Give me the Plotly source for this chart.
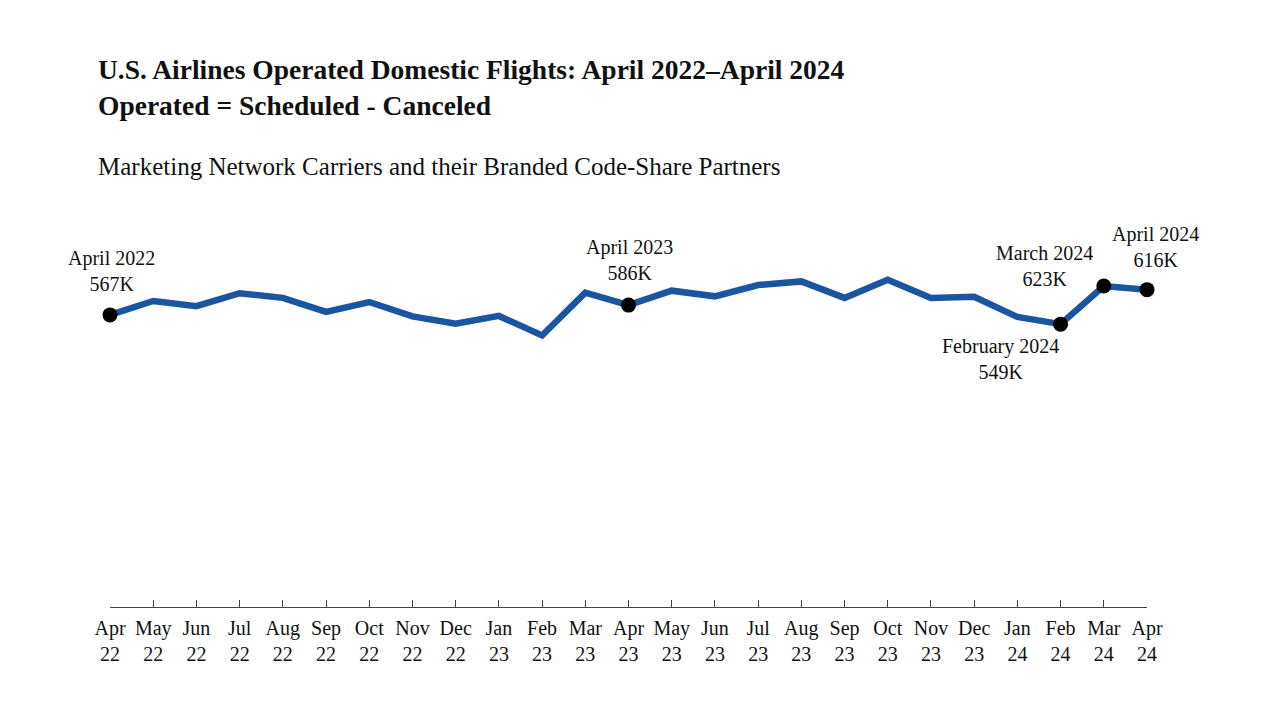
import plotly.graph_objects as go

# monthly operated domestic flights, thousands
months = ["Apr<br>22", "May<br>22", "Jun<br>22", "Jul<br>22", "Aug<br>22", "Sep<br>22",
          "Oct<br>22", "Nov<br>22", "Dec<br>22", "Jan<br>23", "Feb<br>23", "Mar<br>23",
          "Apr<br>23", "May<br>23", "Jun<br>23", "Jul<br>23", "Aug<br>23", "Sep<br>23",
          "Oct<br>23", "Nov<br>23", "Dec<br>23", "Jan<br>24", "Feb<br>24", "Mar<br>24",
          "Apr<br>24"]
operated = [567, 594, 584, 609, 600, 573, 592, 564, 550, 565, 527, 610,
            586, 614, 603, 625, 632, 600, 635, 600, 602, 563, 549, 623, 616]

# highlighted months: index, label
highlight_idx = [0, 12, 22, 23, 24]
highlight_names = ["April 2022", "April 2023", "February 2024", "March 2024", "April 2024"]
# label offsets in px (dx, dy)
label_shift = [(1, 44), (1, 45), (-60, -35), (-59, 20), (8, 43)]

FONT = "Liberation Serif"
x = list(range(len(months)))

fig = go.Figure()
fig.add_trace(go.Scatter(x=x, y=operated, mode="lines",
                         line=dict(color="#1a55a0", width=6.5),
                         cliponaxis=False, hoverinfo="skip"))
fig.add_trace(go.Scatter(x=[x[i] for i in highlight_idx],
                         y=[operated[i] for i in highlight_idx],
                         mode="markers", marker=dict(color="black", size=15),
                         cliponaxis=False, hoverinfo="skip"))

for i, name, (dx, dy) in zip(highlight_idx, highlight_names, label_shift):
    fig.add_annotation(x=x[i], y=operated[i], text=f"{name}<br>{operated[i]}K",
                       showarrow=False, xshift=dx, yshift=dy,
                       xanchor="center", yanchor="middle",
                       font=dict(family=FONT, size=20, color="#111"))

fig.add_annotation(xref="paper", yref="paper", x=-0.0135, y=1.0835,
                   text="Marketing Network Carriers and their Branded Code-Share Partners",
                   showarrow=False, xanchor="left", yanchor="middle",
                   font=dict(family=FONT, size=25, color="#111"))

fig.update_layout(
    width=1280, height=727,
    paper_bgcolor="white", plot_bgcolor="white",
    showlegend=False,
    margin=dict(l=102, r=141, t=192, b=128),
    title=dict(text="<b>U.S. Airlines Operated Domestic Flights: April 2022–April 2024<br>"
                    "Operated = Scheduled - Canceled</b>",
               xref="container", yref="container", x=90 / 1280, y=1 - 71 / 727,
               xanchor="left", yanchor="middle",
               font=dict(family=FONT, size=27.5, color="#111")),
    font=dict(family=FONT, color="#111"),
)
fig.update_xaxes(range=[0, 24], tickvals=x, ticktext=months,
                 showgrid=False, zeroline=False,
                 showline=True, linecolor="#444", linewidth=1,
                 ticks="inside", ticklen=7, tickcolor="#444", tickwidth=1,
                 ticklabelstandoff=3,
                 tickfont=dict(family=FONT, size=20, color="#111"))
fig.update_yaxes(range=[0, 790], visible=False)

fig.write_html("out.html")
